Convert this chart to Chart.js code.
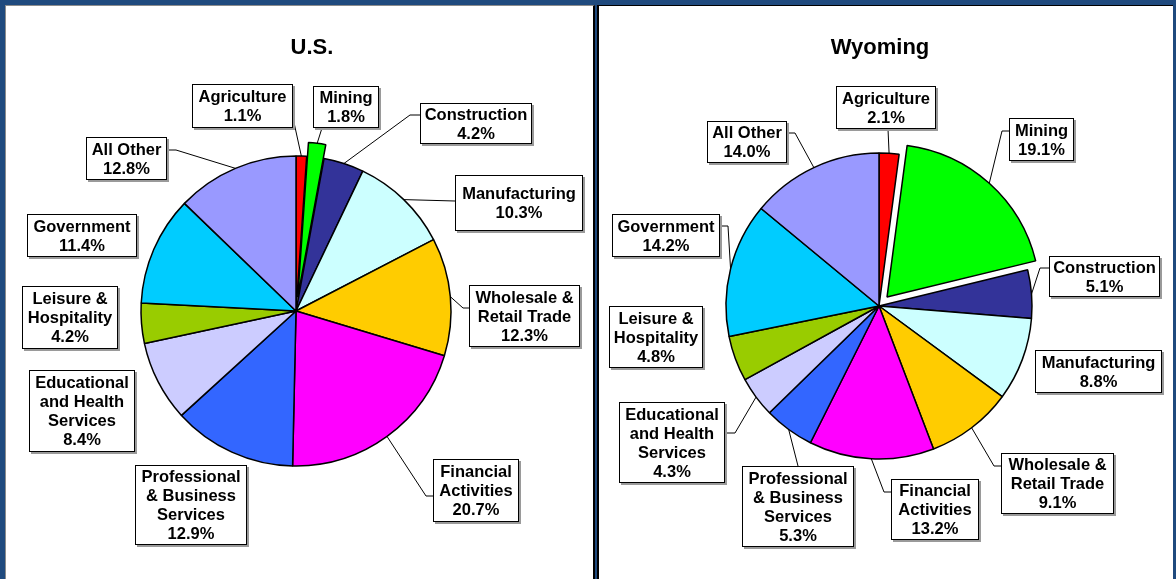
<!DOCTYPE html>
<html>
<head>
<meta charset="utf-8">
<script src="https://cdn.jsdelivr.net/npm/chart.js@4.4.0/dist/chart.umd.min.js"></script>
<style>
  html, body { margin: 0; padding: 0; }
  body { width: 1176px; height: 579px; background: #1f4a7e; position: relative; overflow: hidden; }
  .panel { position: absolute; background: #fff; box-sizing: border-box; }
  #p1 { left: 5px; top: 5px; width: 590px; height: 580px; border-top: 1px solid #8c8c8c; border-left: 1px solid #8c8c8c; border-right: 2px solid #000; }
  #p2 { left: 597px; top: 5px; width: 576px; height: 580px; border-top: 1px solid #000; border-left: 2px solid #000; }
  canvas { position: absolute; left: 0; top: 0; }
</style>
</head>
<body>
<div class="panel" id="p1"></div>
<div class="panel" id="p2"></div>
<canvas id="us" width="1176" height="579"></canvas>
<canvas id="wy" width="1176" height="579"></canvas>
<script>
// categories, one array of text lines per slice (clockwise from 12 o'clock)
const categories = [
  ['Agriculture'], ['Mining'], ['Construction'], ['Manufacturing'],
  ['Wholesale &', 'Retail Trade'], ['Financial', 'Activities'],
  ['Professional', '& Business', 'Services'], ['Educational', 'and Health', 'Services'],
  ['Leisure &', 'Hospitality'], ['Government'], ['All Other']
];
const usShares = [1.1, 1.8, 4.2, 10.3, 12.3, 20.7, 12.9, 8.4, 4.2, 11.4, 12.8];
const wyShares = [2.1, 19.1, 5.1, 8.8, 9.1, 13.2, 5.3, 4.3, 4.8, 14.2, 14.0];
const sliceColors = ['#ff0000', '#00ff00', '#333399', '#ccffff', '#ffcc00', '#ff00ff',
                     '#3366ff', '#ccccff', '#99cc00', '#00ccff', '#9999ff'];

const FONT = '"Liberation Sans", Arial, sans-serif';

// label box layout [x, y, w, h] and leader bend points (page pixels)
const usBoxes = [
  [192, 84, 101, 44], [313, 86, 66, 42], [420, 103, 112, 41], [455, 175, 128, 56],
  [469, 285, 111, 62], [433, 459, 86, 63], [135, 465, 112, 80], [29, 370, 106, 82],
  [22, 286, 96, 63], [27, 214, 110, 43], [86, 137, 81, 43]
];
const usLeaders = [
  [[293, 118]], [[322, 128]], [[410, 115], [420, 115]], [[455, 201]],
  [[463, 308], [469, 308]], [[426, 496], [433, 496]], null, null, null, null,
  [[176, 150], [167, 150]]
];
const wyBoxes = [
  [836, 86, 100, 43], [1009, 118, 65, 43], [1049, 256, 111, 41], [1035, 350, 127, 43],
  [1001, 453, 113, 61], [891, 479, 88, 61], [742, 466, 112, 81], [619, 402, 106, 81],
  [609, 306, 94, 62], [612, 214, 108, 43], [707, 121, 80, 42]
];
const wyLeaders = [
  [[888, 129]], [[1002, 131], [1009, 131]], [[1040, 268], [1049, 268]], null,
  [[994, 466], [1001, 466]], [[884, 492], [891, 492]], [[798, 466]],
  [[735, 433], [725, 433]], null, [[728, 226], [720, 226]], [[795, 133], [787, 133]]
];

// pulls the Mining slice out of the pie
const explodePlugin = {
  id: 'explode',
  afterDatasetUpdate(chart, args, opts) {
    args.meta.data.forEach((arc, i) => {
      if (categories[i][0] !== opts.name) return;
      const mid = (arc.startAngle + arc.endAngle) / 2;
      arc.x += Math.cos(mid) * opts.distance;
      arc.y += Math.sin(mid) * opts.distance;
    });
  }
};

// title, boxed labels and leader lines
const calloutPlugin = {
  id: 'callouts',
  afterDatasetsDraw(chart, args, opts) {
    const ctx = chart.ctx;
    const arcs = chart.getDatasetMeta(0).data;
    const values = chart.data.datasets[0].data;
    ctx.save();

    ctx.fillStyle = '#000';
    ctx.font = 'bold 22px ' + FONT;
    ctx.textAlign = 'center';
    ctx.textBaseline = 'alphabetic';
    ctx.fillText(opts.title, opts.titleX, opts.titleY);

    ctx.strokeStyle = '#000';
    ctx.lineWidth = 1;
    arcs.forEach((arc, i) => {
      const pts = opts.leaders[i];
      if (!pts) return;
      const mid = (arc.startAngle + arc.endAngle) / 2;
      ctx.beginPath();
      ctx.moveTo(arc.x + Math.cos(mid) * arc.outerRadius, arc.y + Math.sin(mid) * arc.outerRadius);
      pts.forEach(p => ctx.lineTo(p[0], p[1]));
      ctx.stroke();
    });

    ctx.font = 'bold 16.5px ' + FONT;
    ctx.textBaseline = 'middle';
    arcs.forEach((arc, i) => {
      const [x, y, w, h] = opts.boxes[i];
      ctx.fillStyle = '#9a9a9a';
      ctx.fillRect(x + 2, y + 2, w, h);
      ctx.fillStyle = '#fff';
      ctx.fillRect(x, y, w, h);
      ctx.strokeRect(x + 0.5, y + 0.5, w - 1, h - 1);
      const lines = categories[i].concat(values[i].toFixed(1) + '%');
      const cy = y + h / 2 - (lines.length - 1) * 19 / 2 + 1;
      ctx.fillStyle = '#000';
      lines.forEach((t, k) => ctx.fillText(t, x + w / 2, cy + k * 19));
    });
    ctx.restore();
  }
};

function makePie(id, shares, radius, padding, callouts) {
  return new Chart(document.getElementById(id), {
    type: 'pie',
    data: {
      labels: categories.map(c => c.join(' ')),
      datasets: [{
        data: shares,
        backgroundColor: sliceColors,
        borderColor: '#000',
        borderWidth: 1.5,
        radius: radius
      }]
    },
    options: {
      responsive: false,
      animation: false,
      devicePixelRatio: 1,
      events: [],
      layout: { padding: padding },
      plugins: {
        legend: { display: false },
        tooltip: { enabled: false },
        explode: { name: 'Mining', distance: callouts.explode },
        callouts: callouts
      }
    },
    plugins: [explodePlugin, calloutPlugin]
  });
}

makePie('us', usShares, 155, { left: 0, right: 584, top: 43, bottom: 0 }, {
  title: 'U.S.', titleX: 312, titleY: 54, boxes: usBoxes, leaders: usLeaders, explode: 14
});
makePie('wy', wyShares, 153, { left: 582, right: 0, top: 33, bottom: 0 }, {
  title: 'Wyoming', titleX: 880, titleY: 54, boxes: wyBoxes, leaders: wyLeaders, explode: 12
});
</script>
</body>
</html>
